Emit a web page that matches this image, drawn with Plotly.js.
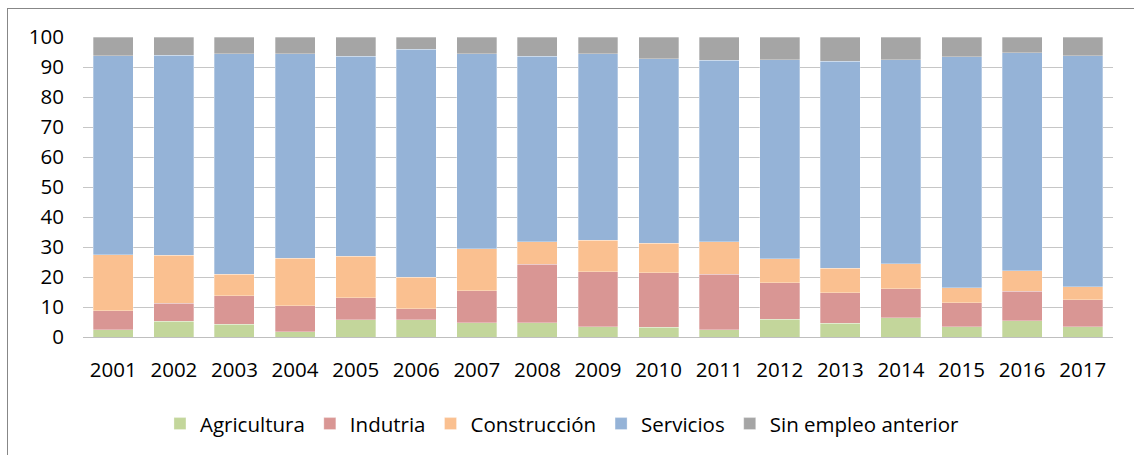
<!DOCTYPE html>
<html>
<head>
<meta charset="utf-8">
<script src="https://cdn.plot.ly/plotly-3.0.1.min.js"></script>
<style>
  html, body { margin: 0; padding: 0; background: #ffffff; }
  #wrap { position: relative; width: 1134px; height: 455px; overflow: hidden; }
  #chart { position: absolute; left: 0; top: 0; width: 1134px; height: 455px; }
  #frame { position: absolute; left: 7px; top: 8px; width: 1200px; height: 600px;
           border-left: 1px solid #878787; border-top: 1px solid #878787; pointer-events: none; }
</style>
</head>
<body>
<div id="wrap">
  <div id="chart"></div>
  <div id="frame"></div>
</div>
<script>
const years = ['2001','2002','2003','2004','2005','2006','2007','2008','2009','2010','2011','2012','2013','2014','2015','2016','2017'];
const agricultura = [2.4, 5.3, 4.2, 1.8, 5.7, 5.7, 4.8, 4.8, 3.5, 3.2, 2.4, 5.9, 4.6, 6.4, 3.5, 5.4, 3.5];
const industria   = [6.4, 5.9, 9.5, 8.6, 7.4, 3.8, 10.6, 19.4, 18.3, 18.2, 18.6, 12.2, 10.1, 9.7, 8.0, 9.8, 9.0];
const construccion= [18.7, 16.0, 7.2, 15.9, 13.9, 10.4, 14.1, 7.5, 10.4, 9.9, 10.8, 8.0, 8.3, 8.3, 5.0, 6.9, 4.2];
const servicios   = [66.3, 66.8, 73.6, 68.2, 66.6, 76.0, 65.0, 61.9, 62.3, 61.4, 60.4, 66.4, 69.0, 68.0, 76.9, 72.7, 77.1];
const sinEmpleo   = [6.2, 6.0, 5.5, 5.5, 6.4, 4.1, 5.5, 6.4, 5.5, 7.3, 7.8, 7.5, 8.0, 7.6, 6.6, 5.2, 6.2];
const yTicks = [0, 10, 20, 30, 40, 50, 60, 70, 80, 90, 100];

const seriesNames = ['Agricultura', 'Indutria', 'Construcción', 'Servicios', 'Sin empleo anterior'];
const seriesData = [agricultura, industria, construccion, servicios, sinEmpleo];
const seriesColors = ['#C3D69B', '#D99694', '#FAC090', '#95B3D7', '#A5A5A5'];

const traces = seriesNames.map((name, i) => ({
  type: 'bar',
  name: name,
  x: years,
  y: seriesData[i],
  marker: { color: seriesColors[i], line: { color: 'rgba(255,255,255,0.6)', width: 0.5 } },
  hoverinfo: 'x+y+name'
}));

const font = { family: '"Open Sans", "Liberation Sans", sans-serif', size: 20.5, color: '#000000' };

const layout = {
  width: 1134,
  height: 455,
  margin: { l: 83, r: 21, t: 37, b: 117 },
  paper_bgcolor: '#ffffff',
  plot_bgcolor: '#ffffff',
  font: font,
  barmode: 'stack',
  bargap: 0.34,
  showlegend: true,
  legend: {
    orientation: 'h',
    traceorder: 'normal',
    x: 0.4655, xanchor: 'center',
    y: -0.285, yanchor: 'middle',
    font: font,
    itemclick: false
  },
  xaxis: {
    type: 'category',
    showgrid: false,
    showline: true,
    linecolor: '#BFBFBF',
    linewidth: 1,
    ticks: '',
    ticklabelstandoff: 14,
    tickfont: font,
    zeroline: false
  },
  yaxis: {
    range: [0, 100],
    tickvals: yTicks,
    ticktext: yTicks.map(String),
    showgrid: true,
    gridcolor: '#C6C6C6',
    gridwidth: 1,
    showline: false,
    zeroline: false,
    ticks: '',
    ticklabelstandoff: 18,
    tickfont: font
  }
};

Plotly.newPlot('chart', traces, layout, { staticPlot: true, displayModeBar: false });
</script>
</body>
</html>
